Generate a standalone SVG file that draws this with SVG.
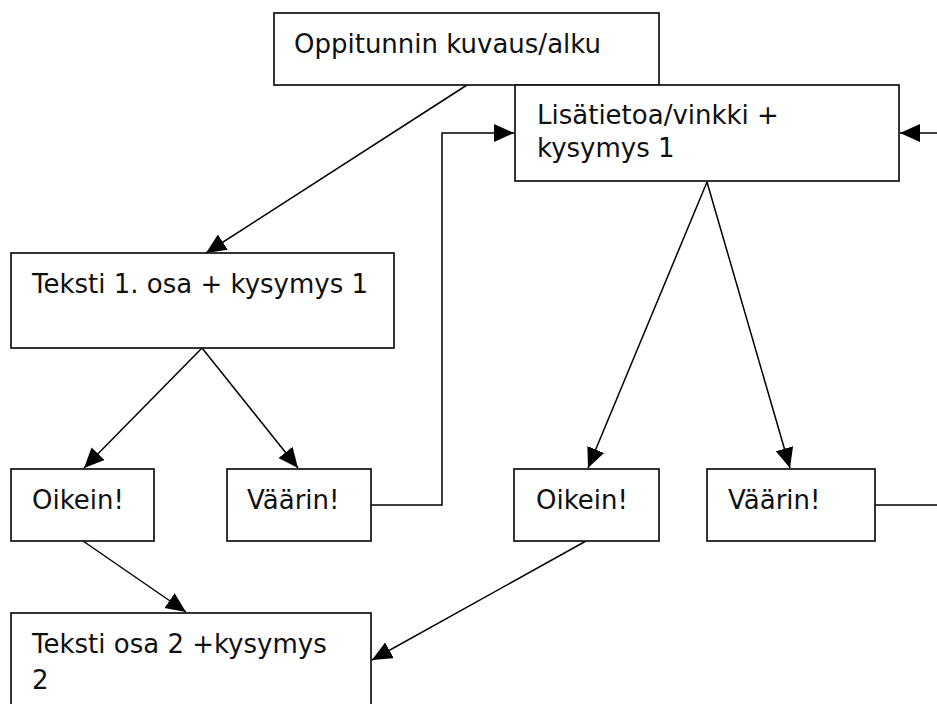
<svg xmlns="http://www.w3.org/2000/svg" width="937" height="704" viewBox="0 0 937 704">
  <style>
    .box { fill: #ffffff; stroke: #111111; stroke-width: 1.7; }
    .lbl { font-family: "DejaVu Sans", Verdana, sans-serif; font-size: 26px; fill: #111111; }
    .edge { fill: none; stroke: #000000; stroke-width: 1.5; }
  </style>
  <defs>
    <marker id="arrow" markerUnits="userSpaceOnUse" markerWidth="22" markerHeight="20" refX="20" refY="9" orient="auto">
      <path d="M0,0 L20,9 L0,18 Z" fill="#000000"/>
    </marker>
  </defs>
  <rect width="937" height="704" fill="#ffffff"/>

  <g id="connectors">
    <line class="edge" x1="467" y1="85" x2="206" y2="253" marker-end="url(#arrow)"/>
    <polyline class="edge" points="371,505 442,505 442,133 514,133" marker-end="url(#arrow)"/>
    <line class="edge" x1="937" y1="133" x2="900" y2="133" marker-end="url(#arrow)"/>
    <line class="edge" x1="202" y1="348" x2="84" y2="468" marker-end="url(#arrow)"/>
    <line class="edge" x1="202" y1="348" x2="298" y2="468" marker-end="url(#arrow)"/>
    <line class="edge" x1="707" y1="182" x2="588" y2="468" marker-end="url(#arrow)"/>
    <line class="edge" x1="707" y1="182" x2="790" y2="468" marker-end="url(#arrow)"/>
    <line class="edge" x1="875" y1="505" x2="937" y2="505"/>
    <line class="edge" x1="83" y1="541" x2="186" y2="612" marker-end="url(#arrow)"/>
    <line class="edge" x1="586" y1="541" x2="372" y2="660" marker-end="url(#arrow)"/>
  </g>

  <g id="start">
    <rect class="box" x="274" y="13" width="385" height="72"/>
    <text class="lbl" x="294" y="53">Oppitunnin kuvaus/alku</text>
  </g>

  <g id="hint1">
    <rect class="box" x="515" y="85" width="384" height="96"/>
    <text class="lbl" x="537" y="124">Lisätietoa/vinkki +</text>
    <text class="lbl" x="537" y="157">kysymys 1</text>
  </g>

  <g id="text1">
    <rect class="box" x="11" y="253" width="383" height="95"/>
    <text class="lbl" x="32" y="293">Teksti 1. osa + kysymys 1</text>
  </g>

  <g id="right1">
    <rect class="box" x="11" y="469" width="143" height="72"/>
    <text class="lbl" x="32" y="509">Oikein!</text>
  </g>

  <g id="wrong1">
    <rect class="box" x="227" y="469" width="144" height="72"/>
    <text class="lbl" x="247" y="509">Väärin!</text>
  </g>

  <g id="right2">
    <rect class="box" x="514" y="469" width="145" height="72"/>
    <text class="lbl" x="536" y="509">Oikein!</text>
  </g>

  <g id="wrong2">
    <rect class="box" x="707" y="469" width="168" height="72"/>
    <text class="lbl" x="728" y="509">Väärin!</text>
  </g>

  <g id="text2">
    <rect class="box" x="11" y="613" width="360" height="100"/>
    <text class="lbl" x="32" y="653">Teksti osa 2 +kysymys</text>
    <text class="lbl" x="32" y="689">2</text>
  </g>
</svg>
